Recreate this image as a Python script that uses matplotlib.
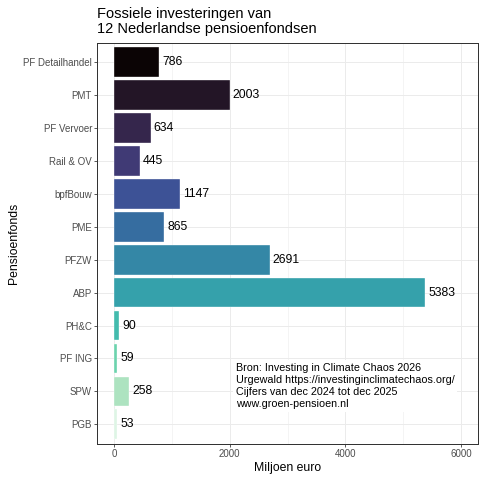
import matplotlib
matplotlib.use("Agg")
import matplotlib.pyplot as plt
from matplotlib.ticker import FixedLocator

plt.rcParams['font.family'] = ['Liberation Sans', 'DejaVu Sans']

funds = ["PF Detailhandel", "PMT", "PF Vervoer", "Rail & OV", "bpfBouw", "PME",
         "PFZW", "ABP", "PH&C", "PF ING", "SPW", "PGB"]
values = [786, 2003, 634, 445, 1147, 865, 2691, 5383, 90, 59, 258, 53]
colors = ["#0B0405", "#231526", "#35264C", "#403A75", "#3D5296", "#366DA0",
          "#3487A6", "#35A1AB", "#43BBAD", "#6CD3AD", "#ADE3C0", "#DEF5E5"]
x_ticks = [0, 2000, 4000, 6000]
x_minor = [1000, 3000, 5000]
title = "Fossiele investeringen van\n12 Nederlandse pensioenfondsen"
note = ("Bron: Investing in Climate Chaos 2026\n"
        "Urgewald https://investinginclimatechaos.org/\n"
        "Cijfers van dec 2024 tot dec 2025\n"
        "www.groen-pensioen.nl")

W, H = 485, 480
fig = plt.figure(figsize=(W / 72, H / 72), dpi=72)
ax = fig.add_axes([97 / W, 1 - 444 / H, (478 - 97) / W, (444 - 42.5) / H])

n = len(funds)
ypos = [n - i for i in range(n)]
ax.barh(ypos, values, height=0.9, color=colors, edgecolor="white", linewidth=0.35, zorder=3)
for y, v in zip(ypos, values):
    ax.annotate(str(v), xy=(v, y), xytext=(3, 0), textcoords="offset points",
                ha="left", va="center", fontsize=12.3, color="black", zorder=5)

ax.set_xlim(-295, 6295)
ax.set_ylim(0.4, n + 0.6)
ax.set_yticks(ypos)
ax.set_yticklabels(funds)
ax.xaxis.set_major_locator(FixedLocator(x_ticks))
ax.xaxis.set_minor_locator(FixedLocator(x_minor))

ax.grid(True, which="major", color="#EBEBEB", linewidth=1.0, zorder=0)
ax.grid(True, which="minor", axis="x", color="#EBEBEB", linewidth=0.5, zorder=0)
ax.set_axisbelow(True)
for s in ax.spines.values():
    s.set_color("#333333")
    s.set_linewidth(1.0)
ax.tick_params(which="major", length=3, width=0.8, color="#333333",
               labelsize=9.8, labelcolor="#4D4D4D", pad=2)
ax.tick_params(which="minor", length=0)

ax.set_xlabel("Miljoen euro", fontsize=12.2, labelpad=3)
ax.set_ylabel("Pensioenfonds", fontsize=12.2, labelpad=3.5)

ax.text(2110, 2.17, note, ha="left", va="center", fontsize=10.8, linespacing=1.27,
        zorder=6, bbox=dict(boxstyle="square,pad=0.25", facecolor="white", edgecolor="none"))

fig.text(97 / W, 1 - 7 / H, title, ha="left", va="top", fontsize=14.6, linespacing=1.1)

fig.savefig("out.png", dpi=72, facecolor="white")
